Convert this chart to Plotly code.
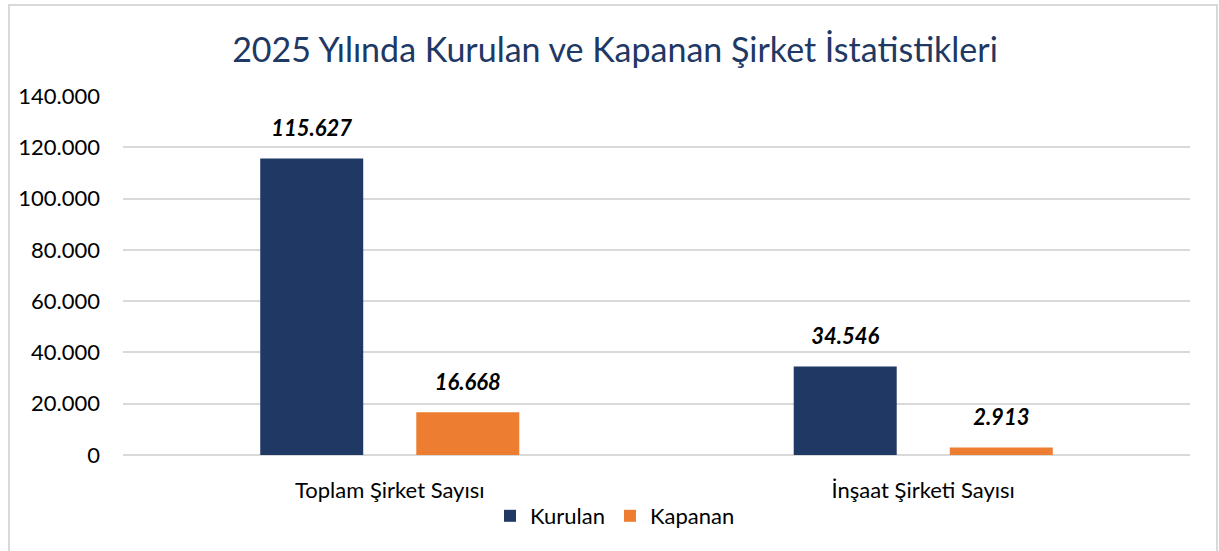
import plotly.graph_objects as go

categories = ["Toplam Şirket Sayısı", "İnşaat Şirketi Sayısı"]
kurulan = [115627, 34546]
kapanan = [16668, 2913]
series_names = ["Kurulan", "Kapanan"]
title_text = "2025 Yılında Kurulan ve Kapanan Şirket İstatistikleri"

W, H = 1219, 551
L, R, T, B = 123, 29, 96, 96
pw, ph = W - L - R, H - T - B

FONT = "Lato, Open Sans, sans-serif"
colors = ["#203864", "#ED7D31"]

fig = go.Figure()
for name, vals, col in zip(series_names, [kurulan, kapanan], colors):
    fig.add_trace(
        go.Bar(
            name=name,
            x=categories,
            y=vals,
            offsetgroup=name,
            marker=dict(color=col, line=dict(width=0)),
        )
    )
# value labels, lifted above the bars with an invisible marker
for name, vals in zip(series_names, [kurulan, kapanan]):
    fig.add_trace(
        go.Scatter(
            x=categories,
            y=vals,
            offsetgroup=name,
            mode="markers+text",
            marker=dict(size=26, opacity=0),
            texttemplate="<b><i>%{y:,d}</i></b>",
            textposition="top center",
            textfont=dict(family=FONT, size=22, color="#000000"),
            cliponaxis=False,
            showlegend=False,
            hoverinfo="skip",
        )
    )


def px_x(x):
    return (x - L) / pw


def px_y(y):
    return (H - B - y) / ph


fig.update_layout(
    width=W,
    height=H,
    separators=",.",
    barmode="group",
    scattermode="group",
    bargap=0.415,
    bargroupgap=0.34,
    scattergap=0.415,
    plot_bgcolor="white",
    paper_bgcolor="white",
    margin=dict(l=L, r=R, t=T, b=B),
    font=dict(family=FONT, size=22, color="#000000"),
    title=dict(
        text=title_text,
        x=615 / W,
        xanchor="center",
        y=1 - 50 / H,
        yanchor="middle",
        font=dict(family=FONT, size=34, color="#203864"),
    ),
    xaxis=dict(
        showgrid=False,
        showline=False,
        ticks="",
        ticklabelstandoff=20,
        tickfont=dict(size=22, color="#000000"),
    ),
    yaxis=dict(
        range=[0, 140000],
        dtick=20000,
        tickformat=",d",
        showgrid=True,
        gridcolor="#D9D9D9",
        gridwidth=2,
        zeroline=True,
        zerolinecolor="#D9D9D9",
        zerolinewidth=2,
        ticks="",
        ticklabelstandoff=22,
        tickfont=dict(size=22, color="#000000"),
    ),
    legend=dict(
        orientation="h",
        x=px_x(615),
        xanchor="center",
        y=px_y(516),
        yanchor="middle",
        font=dict(size=22),
        itemwidth=30,
    ),
    shapes=[
        dict(
            type="rect",
            xref="paper",
            yref="paper",
            x0=px_x(9),
            x1=px_x(1217),
            y0=px_y(560),
            y1=px_y(5),
            line=dict(color="#D9D9D9", width=2),
            fillcolor="rgba(0,0,0,0)",
            layer="below",
        )
    ],
)

fig.write_html(
    "out.html",
    config={"displayModeBar": False},
    post_script="document.body.style.margin='0';",
)
